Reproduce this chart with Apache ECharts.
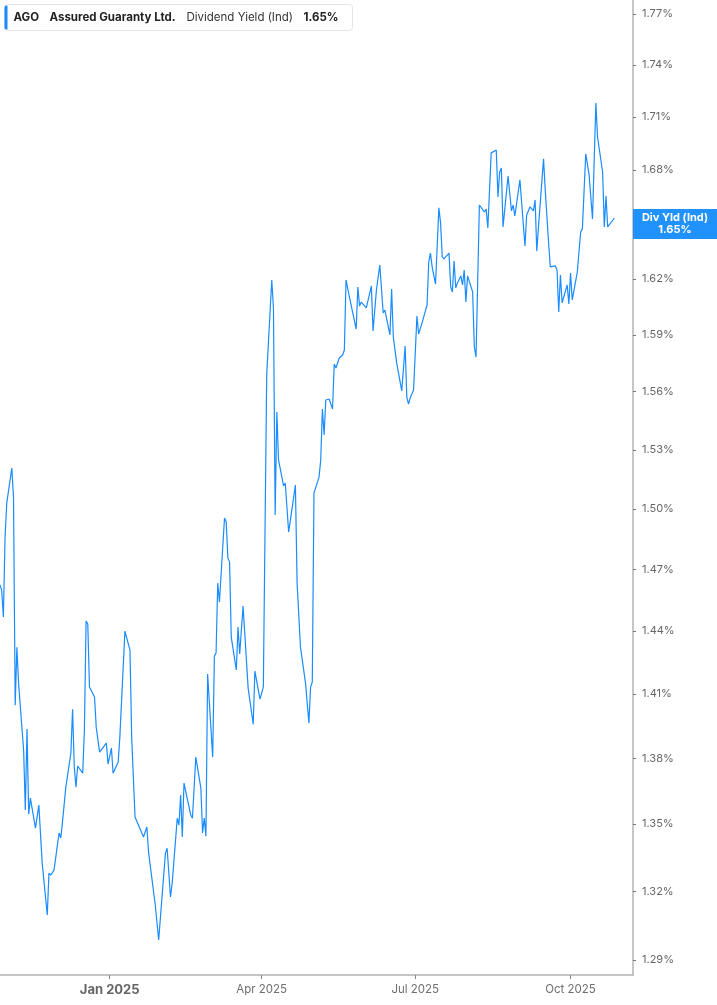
<!DOCTYPE html>
<html>
<head>
<meta charset="utf-8">
<script src="https://cdn.jsdelivr.net/npm/echarts@6/dist/echarts.min.js"></script>
<style>
html,body{margin:0;padding:0;background:#fff;}
#chart{width:717px;height:1005px;}
</style>
</head>
<body>
<div id="chart"></div>
<script>
const dates = [
'2024-10-28','2024-10-29','2024-10-30','2024-10-31','2024-11-01','2024-11-04','2024-11-05','2024-11-06','2024-11-07','2024-11-08',
'2024-11-11','2024-11-12','2024-11-13','2024-11-14','2024-11-15','2024-11-18','2024-11-20','2024-11-22','2024-11-25','2024-11-26',
'2024-11-27','2024-11-29','2024-12-02','2024-12-03','2024-12-04','2024-12-05','2024-12-06','2024-12-09','2024-12-10','2024-12-11',
'2024-12-12','2024-12-13','2024-12-16','2024-12-17','2024-12-18','2024-12-19','2024-12-20','2024-12-23','2024-12-24','2024-12-26',
'2024-12-30','2024-12-31','2025-01-02','2025-01-03','2025-01-06','2025-01-07','2025-01-10','2025-01-13','2025-01-14','2025-01-16',
'2025-01-21','2025-01-23','2025-01-24','2025-01-28','2025-01-29','2025-01-30','2025-02-03','2025-02-04','2025-02-06','2025-02-07',
'2025-02-10','2025-02-11','2025-02-12','2025-02-13','2025-02-14','2025-02-18','2025-02-19','2025-02-21','2025-02-24','2025-02-25',
'2025-02-26','2025-02-27','2025-02-28','2025-03-03','2025-03-04','2025-03-05','2025-03-06','2025-03-07','2025-03-10','2025-03-11',
'2025-03-12','2025-03-13','2025-03-14','2025-03-17','2025-03-18','2025-03-19','2025-03-21','2025-03-24','2025-03-27','2025-03-28',
'2025-03-31','2025-04-01','2025-04-02','2025-04-04','2025-04-07','2025-04-08','2025-04-09','2025-04-10','2025-04-11','2025-04-14',
'2025-04-15','2025-04-17','2025-04-20','2025-04-21','2025-04-22','2025-04-24','2025-04-27','2025-04-29','2025-04-30','2025-05-01',
'2025-05-02','2025-05-05','2025-05-06','2025-05-07','2025-05-08','2025-05-09','2025-05-11','2025-05-13','2025-05-14','2025-05-15',
'2025-05-17','2025-05-19','2025-05-20','2025-05-21','2025-05-22','2025-05-23','2025-05-27','2025-05-28','2025-05-29','2025-05-30',
'2025-06-02','2025-06-03','2025-06-05','2025-06-06','2025-06-08','2025-06-10','2025-06-12','2025-06-13','2025-06-16','2025-06-17',
'2025-06-18','2025-06-20','2025-06-23','2025-06-25','2025-06-26','2025-06-27','2025-06-28','2025-06-30','2025-07-02','2025-07-03',
'2025-07-05','2025-07-08','2025-07-09','2025-07-10','2025-07-11','2025-07-13','2025-07-15','2025-07-16','2025-07-17','2025-07-18',
'2025-07-21','2025-07-22','2025-07-23','2025-07-24','2025-07-25','2025-07-26','2025-07-28','2025-07-29','2025-07-30','2025-07-31',
'2025-08-01','2025-08-04','2025-08-05','2025-08-06','2025-08-08','2025-08-11','2025-08-12','2025-08-13','2025-08-15','2025-08-18',
'2025-08-19','2025-08-20','2025-08-21','2025-08-22','2025-08-25','2025-08-27','2025-08-28','2025-08-29','2025-09-01','2025-09-04',
'2025-09-05','2025-09-07','2025-09-09','2025-09-10','2025-09-11','2025-09-12','2025-09-15','2025-09-16','2025-09-18','2025-09-19',
'2025-09-22','2025-09-23','2025-09-24','2025-09-25','2025-09-26','2025-09-29','2025-09-30','2025-10-01','2025-10-02','2025-10-05',
'2025-10-07','2025-10-08','2025-10-10','2025-10-12','2025-10-14','2025-10-16','2025-10-17','2025-10-20','2025-10-21','2025-10-22',
'2025-10-23','2025-10-27'
];
const yields = [
1.4624,1.4599,1.4468,1.4860,1.5030,1.5207,1.5060,1.4048,1.4323,1.4152,
1.3838,1.3564,1.3936,1.3545,1.3618,1.3482,1.3586,1.3325,1.3096,1.3281,
1.3272,1.3294,1.3460,1.3437,1.3509,1.3518,1.3668,1.3825,1.4029,1.3760,
1.3668,1.3765,1.3732,1.3931,1.4449,1.4434,1.4133,1.4086,1.3945,1.3829,
1.3871,1.3774,1.3848,1.3732,1.3783,1.3899,1.4400,1.4309,1.3899,1.3532,
1.3442,1.3487,1.3374,1.3139,1.3139,1.2987,1.3370,1.3392,1.3175,1.3236,
1.3527,1.3496,1.3632,1.3442,1.3687,1.3541,1.3527,1.3806,1.3664,1.3460,
1.3527,1.3446,1.4195,1.3806,1.4280,1.4295,1.4633,1.4541,1.4955,1.4935,
1.4756,1.4736,1.4371,1.4214,1.4420,1.4290,1.4521,1.4128,1.3959,1.4209,
1.4076,1.4072,1.4133,1.5687,1.6194,1.6043,1.4970,1.5494,1.5248,1.5116,
1.5131,1.4885,1.5060,1.5121,1.4633,1.4323,1.4152,1.3964,1.4133,1.4157,
1.5080,1.5161,1.5248,1.5510,1.5376,1.5557,1.5562,1.5510,1.5745,1.5724,
1.5777,1.5793,1.5819,1.6194,1.6199,1.6102,1.5930,1.6156,1.6054,1.6075,
1.6043,1.6048,1.6161,1.5920,1.6140,1.6275,1.6016,1.6032,1.5899,1.6145,
1.5888,1.5751,1.5604,1.5840,1.5572,1.5536,1.5567,1.5609,1.6000,1.5904,
1.5962,1.6059,1.6291,1.6340,1.6265,1.6172,1.6589,1.6506,1.6319,1.6308,
1.6340,1.6156,1.6129,1.6297,1.6151,1.6178,1.6216,1.6167,1.6248,1.6075,
1.6216,1.6129,1.5835,1.5782,1.6605,1.6566,1.6583,1.6478,1.6897,1.6913,
1.6650,1.6789,1.6812,1.6484,1.6767,1.6572,1.6605,1.6544,1.6745,1.6379,
1.6550,1.6594,1.6572,1.6633,1.6351,1.6484,1.6863,1.6689,1.6395,1.6265,
1.6270,1.6248,1.6021,1.6221,1.6070,1.6167,1.6064,1.6232,1.6086,1.6237,
1.6456,1.6473,1.6891,1.6773,1.6528,1.7181,1.6987,1.6789,1.6484,1.6655,
1.6484,1.6533
];
const yTicks = [1.29,1.32,1.35,1.38,1.41,1.44,1.47,1.50,1.53,1.56,1.59,1.62,1.65,1.68,1.71,1.74,1.77];
const xTicks = ['2025-01-01','2025-04-01','2025-07-01','2025-10-01'];
const xTickLabels = ['Jan 2025','Apr 2025','Jul 2025','Oct 2025'];
const xRange = ['2024-10-28','2025-11-07'];
const headerTicker = 'AGO';
const headerName = 'Assured Guaranty Ltd.';
const headerMetric = 'Dividend Yield (Ind)';
const tagTitle = 'Div Yld (Ind)';

const ts = s => echarts.time.parse(s).getTime();
const lastValue = yields[yields.length - 1];
const seriesData = dates.map((d, i) => [ts(d), yields[i]]);
const xTickTs = xTicks.map(ts);

const FONT = 'Inter, "Liberation Sans", Arial, sans-serif';
const chart = echarts.init(document.getElementById('chart'), null, {renderer: 'canvas'});

chart.setOption({
  animation: false,
  backgroundColor: '#ffffff',
  textStyle: {fontFamily: FONT},
  grid: {left: 0, right: 84, top: 0, bottom: 30, containLabel: false},
  xAxis: {
    type: 'value',
    min: ts(xRange[0]),
    max: ts(xRange[1]),
    axisLine: {show: true, lineStyle: {color: '#b3b3b3', width: 1.5}},
    axisTick: {show: true, length: 4, lineStyle: {color: '#888'}, customValues: xTickTs},
    splitLine: {show: false},
    axisLabel: {
      customValues: xTickTs,
      margin: 9,
      color: '#6f6f6f',
      fontSize: 11.5,
      fontFamily: FONT,
      formatter: function (val) {
        let idx = -1;
        for (let i = 0; i < xTickTs.length; i++) {
          if (Math.abs(xTickTs[i] - val) < 86400000) idx = i;
        }
        if (idx < 0) return '';
        const lbl = xTickLabels[idx];
        return lbl.indexOf('Jan') === 0 ? '{b|' + lbl + '}' : lbl;
      },
      rich: {b: {fontSize: 13, fontWeight: 'bold', color: '#666', fontFamily: FONT}}
    }
  },
  yAxis: {
    type: 'log',
    logBase: 10,
    position: 'right',
    min: 1.2836,
    max: 1.7783,
    axisLine: {show: true, lineStyle: {color: '#b3b3b3', width: 1.5}},
    axisTick: {show: true, length: 3, lineStyle: {color: '#777'}, customValues: yTicks},
    splitLine: {show: false},
    minorSplitLine: {show: false},
    axisLabel: {
      customValues: yTicks,
      margin: 9,
      color: '#666',
      fontSize: 11,
      fontFamily: FONT,
      formatter: v => Number(v).toFixed(2) + '%'
    }
  },
  series: [{
    type: 'line',
    data: seriesData,
    showSymbol: false,
    symbol: 'none',
    clip: false,
    z: 3,
    lineStyle: {color: '#1a8cff', width: 1.2},
    markLine: {
      silent: true,
      symbol: ['none', 'none'],
      z: 10,
      animation: false,
      lineStyle: {color: 'rgba(0,0,0,0)', width: 0, type: 'solid'},
      emphasis: {disabled: true},
      data: [{yAxis: lastValue, name: 'tag'}],
      label: {
        show: true,
        position: 'end',
        distance: 0,
        backgroundColor: '#2191fb',
        padding: [3, 5, 3, 5],
        formatter: '{a|' + tagTitle + '}\n{a|' + lastValue.toFixed(2) + '%}',
        rich: {a: {width: 74, align: 'center', color: '#fff', fontWeight: 'bold', fontSize: 11, lineHeight: 12, fontFamily: FONT}}
      }
    }
  }],
  graphic: [{
    type: 'group',
    left: 4,
    top: 4,
    children: [
      {type: 'rect', shape: {x: 0, y: 0, width: 348, height: 26, r: 3}, style: {fill: '#fff', stroke: '#e4e4e4', lineWidth: 1}},
      {type: 'rect', shape: {x: 0, y: 1, width: 3, height: 24, r: [2, 0, 0, 2]}, style: {fill: '#1a8cff'}},
      {type: 'text', x: 9, y: 13, style: {text: headerTicker, fill: '#222', font: 'bold 11.5px ' + FONT, verticalAlign: 'middle'}},
      {type: 'text', x: 45, y: 13, style: {text: headerName, fill: '#222', font: 'bold 11.5px ' + FONT, verticalAlign: 'middle'}},
      {type: 'text', x: 182, y: 13, style: {text: headerMetric, fill: '#333', font: '11.5px ' + FONT, verticalAlign: 'middle'}},
      {type: 'text', x: 299, y: 13, style: {text: lastValue.toFixed(2) + '%', fill: '#222', font: 'bold 11.5px ' + FONT, verticalAlign: 'middle'}}
    ]
  }]
});
</script>
</body>
</html>
